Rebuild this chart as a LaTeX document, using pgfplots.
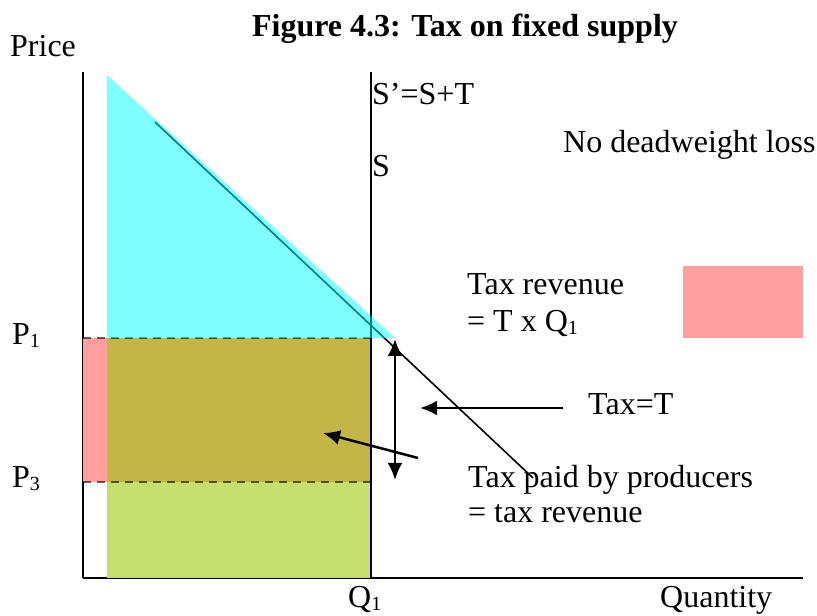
\documentclass[border=0pt]{standalone}
\usepackage{pgfplots}
\pgfplotsset{compat=1.18}
\usepackage{fontspec}
\setmainfont{Liberation Serif}
\usetikzlibrary{arrows.meta}
\definecolor{pinkf}{RGB}{255,159,159}
\definecolor{olivef}{RGB}{196,182,68}
\definecolor{greenf}{RGB}{197,224,110}
\definecolor{cyanf}{RGB}{0,255,255}
\newcommand\sub[1]{\raisebox{-3pt}{\fontsize{20}{20}\selectfont #1}}
\tikzset{lab/.style={anchor=base west, inner sep=0pt, font=\fontsize{32}{38}\selectfont}}
\begin{document}
\begin{tikzpicture}
\begin{axis}[
  x=1pt, y=1pt,
  xmin=83, xmax=803, ymin=38, ymax=544,
  axis lines=left,
  axis line style={-, line width=2pt, black},
  xtick=\empty, ytick=\empty,
  clip=false,
]
\path (axis cs:0,0) rectangle (axis cs:817,616);
% fills
\addplot[draw=none, fill=greenf] coordinates {(107,38) (371,38) (371,134) (107,134)} -- cycle;
\addplot[draw=none, fill=olivef] coordinates {(107,134) (371,134) (371,278) (107,278)} -- cycle;
\addplot[draw=none, fill=pinkf] coordinates {(83,134) (107,134) (107,278) (83,278)} -- cycle;
\addplot[draw=none, fill=pinkf] coordinates {(683,278) (803,278) (803,350) (683,350)} -- cycle;
% dashed price lines
\addplot[black, opacity=0.6, line width=1.5pt, dash pattern=on 8pt off 6pt] coordinates {(83,278) (371,278)};
\addplot[black, opacity=0.6, line width=1.5pt, dash pattern=on 8pt off 6pt] coordinates {(83,134) (371,134)};
% supply line
\addplot[black, line width=1.6pt] coordinates {(371,38) (371,544)};
% demand line
\addplot[black, line width=1.6pt] coordinates {(155,494) (533,138)};
% consumer area (cyan, translucent)
\addplot[draw=none, fill=cyanf, fill opacity=0.5] coordinates {(107,541) (107,278) (395,278)} -- cycle;
% arrows
\addplot[black, line width=2.5pt, {Latex[length=17pt,width=15pt]}-{Latex[length=17pt,width=15pt]}] coordinates {(395,277) (395,136)};
\addplot[black, line width=2.5pt, -{Latex[length=17pt,width=15pt]}] coordinates {(563,208) (420,208)};
\addplot[black, line width=2.5pt, -{Latex[length=17pt,width=15pt]}] coordinates {(418,158) (323,183)};
% texts
\node[lab, anchor=base] at (axis cs:465,579) {\bfseries Figure 4.3: Tax on fixed supply};
\node[lab] at (axis cs:10,559) {Price};
\node[lab] at (axis cs:372,511) {S’=S+T};
\node[lab] at (axis cs:372,439) {S};
\node[lab] at (axis cs:563,463) {No deadweight loss};
\node[lab] at (axis cs:467,321) {Tax revenue};
\node[lab] at (axis cs:467,284) {= T x Q\sub{1}};
\node[lab] at (axis cs:588,201) {Tax=T};
\node[lab] at (axis cs:468,129) {Tax paid by producers};
\node[lab] at (axis cs:468,94) {= tax revenue};
\node[lab] at (axis cs:12,271) {P\sub{1}};
\node[lab] at (axis cs:12,128) {P\sub{3}};
\node[lab] at (axis cs:348,9) {Q\sub{1}};
\node[lab] at (axis cs:660,9) {Quantity};
\end{axis}
\end{tikzpicture}
\end{document}
